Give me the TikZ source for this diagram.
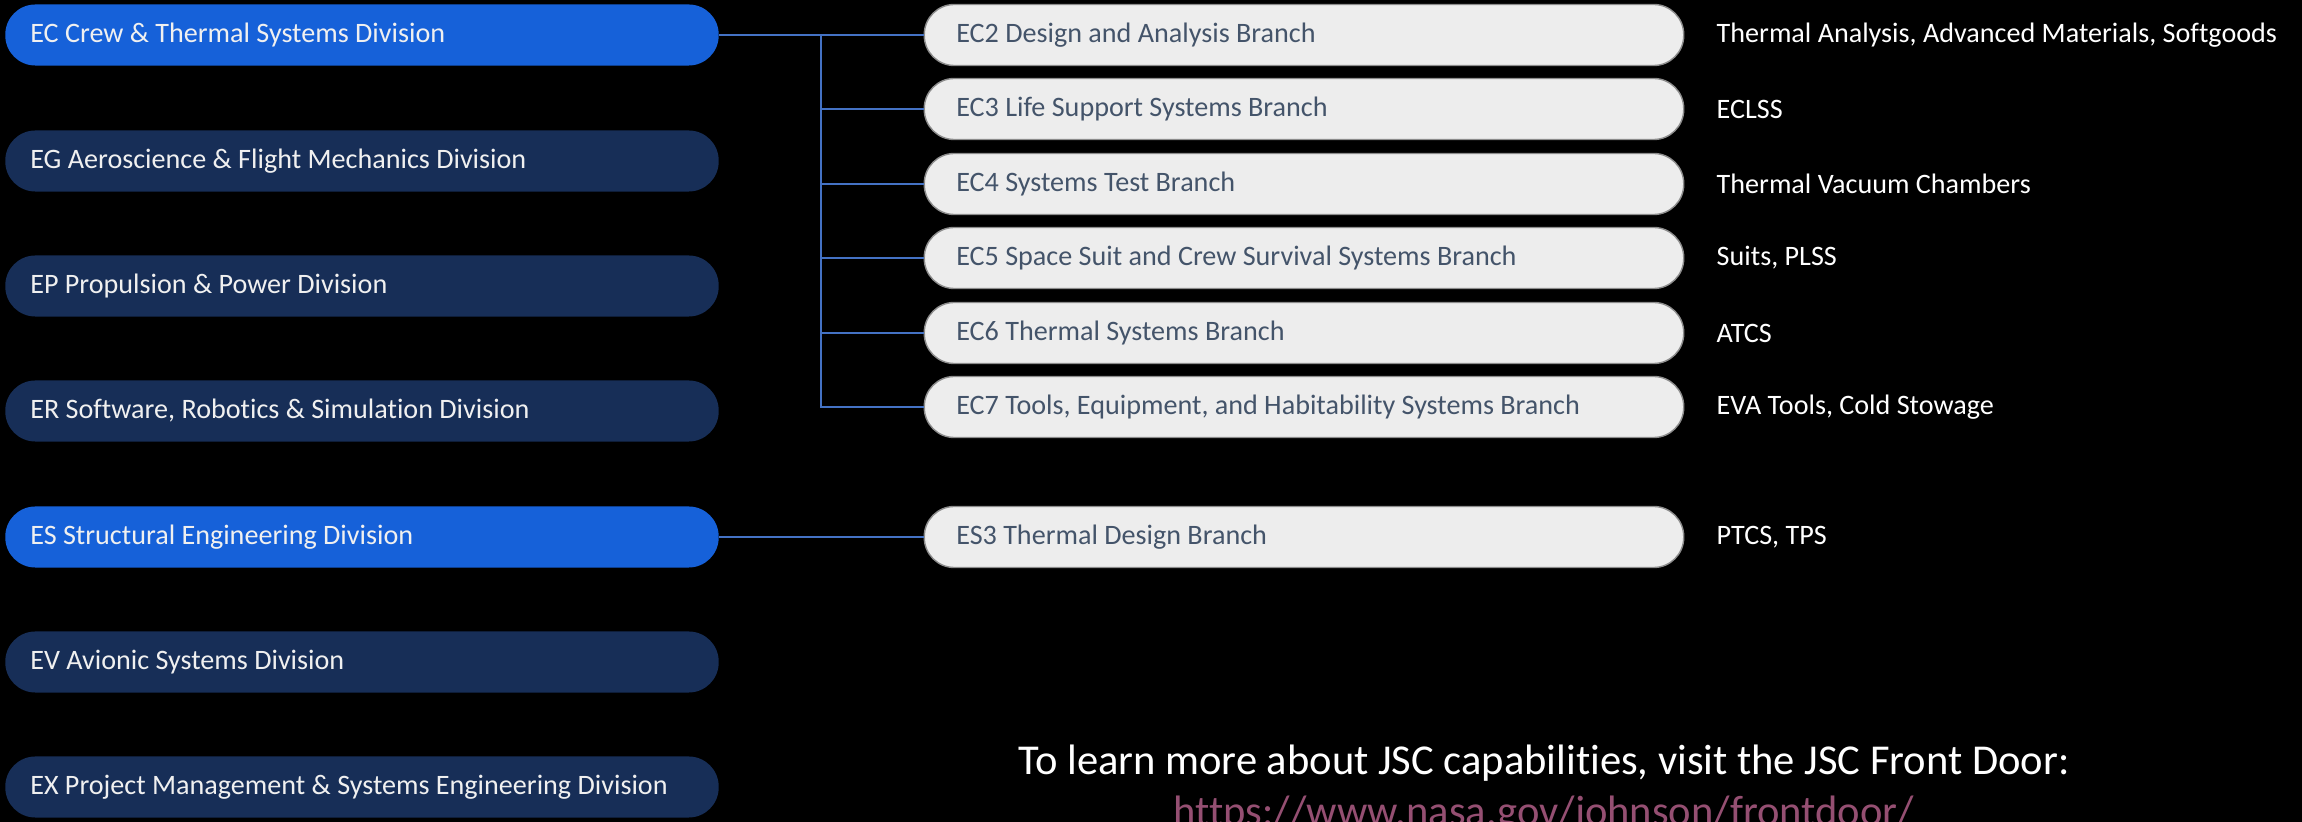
\documentclass[tikz,border=0pt]{standalone}
\usepackage{fontspec}
\setmainfont{Carlito}[Ligatures=NoCommon]
\definecolor{divblue}{HTML}{1661D9}
\definecolor{divnavy}{HTML}{172E57}
\definecolor{branchgray}{HTML}{EDEDED}
\definecolor{branchedge}{HTML}{8C8C8C}
\definecolor{slate}{HTML}{44546A}
\definecolor{linkblue}{HTML}{4472C4}
\definecolor{urlmauve}{HTML}{954F72}

\begin{document}
\begin{tikzpicture}[x=0.01cm,y=-0.01cm,
    division/.style={rectangle,rounded corners=0.3cm,fill=divnavy,text=white!94!black,
        minimum width=7.13cm,minimum height=0.61cm,text width=6.63cm,inner xsep=0.25cm,
        align=flush left,font=\fontsize{8}{9.6}\selectfont},
    active/.style={division,fill=divblue},
    branch/.style={rectangle,rounded corners=0.3cm,fill=branchgray,draw=branchedge,line width=0.4pt,
        text=slate,minimum width=7.59cm,minimum height=0.61cm,text width=6.95cm,inner xsep=0.32cm,
        align=flush left,font=\fontsize{8}{9.6}\selectfont},
    note/.style={anchor=west,text=white,inner sep=0pt,font=\fontsize{8}{9.6}\selectfont},
    link/.style={draw=linkblue,line width=0.6pt}]

            \path[use as bounding box,fill=black] (0,0) rectangle (2302,822);

            %\draw [help lines,step=100] (0,0) grid (2302,822);

            % divisions
            \path   (362,35)  node (ec) [active]   {EC Crew \& Thermal Systems Division}
                    (362,161) node (eg) [division] {EG Aeroscience \& Flight Mechanics Division}
                    (362,286) node (ep) [division] {EP Propulsion \& Power Division}
                    (362,411) node (er) [division] {ER Software, Robotics \& Simulation Division}
                    (362,537) node (es) [active]   {ES Structural Engineering Division}
                    (362,662) node (ev) [division] {EV Avionic Systems Division}
                    (362,787) node (ex) [division] {EX Project Management \& Systems Engineering Division};

            % branches
            \path   (1304,35)  node (ec2) [branch] {EC2 Design and Analysis Branch}
                    (1304,109) node (ec3) [branch] {EC3 Life Support Systems Branch}
                    (1304,184) node (ec4) [branch] {EC4 Systems Test Branch}
                    (1304,258) node (ec5) [branch] {EC5 Space Suit and Crew Survival Systems Branch}
                    (1304,333) node (ec6) [branch] {EC6 Thermal Systems Branch}
                    (1304,407) node (ec7) [branch] {EC7 Tools, Equipment, and Habitability Systems Branch}
                    (1304,537) node (es3) [branch] {ES3 Thermal Design Branch};

            % capabilities
            \path   (1716,35)  node (n2) [note] {Thermal Analysis, Advanced Materials, Softgoods}
                    (1716,109) node (n3) [note] {ECLSS}
                    (1716,184) node (n4) [note] {Thermal Vacuum Chambers}
                    (1716,258) node (n5) [note] {Suits, PLSS}
                    (1716,333) node (n6) [note] {ATCS}
                    (1716,407) node (n7) [note] {EVA Tools, Cold Stowage}
                    (1716,537) node (ns3) [note] {PTCS, TPS};

            \coordinate (fork) at (821,35);

            \draw[link] (ec.east) -- (ec2.west);
            \foreach \b in {ec3,ec4,ec5,ec6,ec7}
                \draw[link] (fork) |- (\b.west);
            \draw[link] (es.east) -- (es3.west);

            % front door
            \path   (1544,775) node (cta) [anchor=base,text=white,inner sep=0pt,font=\fontsize{12.1}{14.5}\selectfont]
                        {To learn more about JSC capabilities, visit the JSC Front Door:}
                    (1544,826) node (url) [anchor=base,text=urlmauve,inner sep=0pt,font=\fontsize{12.1}{14.5}\selectfont]
                        {https://www.nasa.gov/johnson/frontdoor/};

        \end{tikzpicture}
\end{document}
